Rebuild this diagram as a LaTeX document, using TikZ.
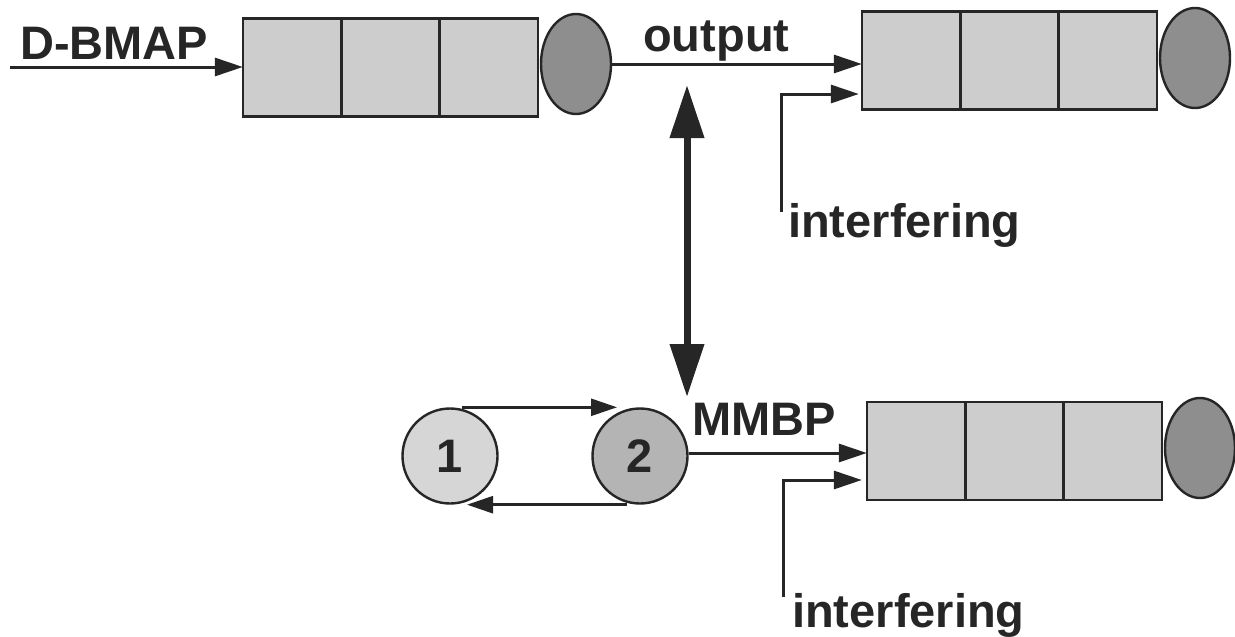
\documentclass[tikz,border=0pt]{standalone}
\usepackage{fontspec}
\setmainfont{Liberation Sans}
\usetikzlibrary{arrows.meta,shapes.geometric}

\definecolor{ink}{HTML}{262626}
\definecolor{cellgray}{HTML}{CDCDCD}
\definecolor{servergray}{HTML}{8E8E8E}
\definecolor{stateone}{HTML}{D6D6D6}
\definecolor{statetwo}{HTML}{B4B4B4}

\tikzset{
  cell/.style={rectangle, draw=ink, fill=cellgray, line width=2.6pt,
    minimum width=98.3pt, minimum height=98pt, inner sep=0pt, outer sep=0pt},
  server/.style={ellipse, draw=ink, fill=servergray, line width=2.4pt,
    minimum width=70pt, minimum height=100pt, inner sep=0pt},
  state/.style={circle, draw=ink, line width=2.4pt, minimum size=95pt,
    inner sep=0pt, text=ink, font=\fontsize{47}{47}\selectfont\bfseries},
  lbl/.style={inner sep=0pt, text=ink, font=\fontsize{47}{47}\selectfont\bfseries},
  flow/.style={draw=ink, line width=3pt, -{Triangle[length=28pt,width=18pt]}},
  loop/.style={draw=ink, line width=2.6pt, -{Triangle[length=26pt,width=17pt]}},
  link/.style={draw=ink, line width=7pt,
    {Triangle[length=53pt,width=33pt]}-{Triangle[length=53pt,width=33pt]}}
}

\begin{document}
\begin{tikzpicture}[x=1pt,y=-1pt]
  \useasboundingbox (0,0) rectangle (1235,637);

  % source queue fed by the D-BMAP stream
  \node[cell] (q1a) at (292,67.5) {};
  \node[cell] (q1b) at (390.5,67.5) {};
  \node[cell] (q1c) at (489,67.5) {};
  \node[server] (s1) at (576,64) {};

  % downstream queue fed by the output
  \node[cell] (q2a) at (911,60.5) {};
  \node[cell] (q2b) at (1009.5,60.5) {};
  \node[cell] (q2c) at (1108,60.5) {};
  \node[server] (s2) at (1195,58) {};

  % queue fed by the equivalent MMBP
  \node[cell] (q3a) at (916,451) {};
  \node[cell] (q3b) at (1014.5,451) {};
  \node[cell] (q3c) at (1113,451) {};
  \node[server] (s3) at (1200,448) {};

  % two-state modulating chain
  \node[state, fill=stateone] (c1) at (450,456) {1};
  \node[state, fill=statetwo] (c2) at (640,456) {2};

  % labels
  \node[lbl, anchor=base west] (tdbmap) at (20,59) {D-BMAP};
  \node[lbl, anchor=base west] (tout) at (643,51) {output};
  \node[lbl, anchor=base west] (tmmbp) at (692,435) {MMBP};
  \node[lbl, anchor=base west] (tif1) at (788,237) {interfering};
  \node[lbl, anchor=base west] (tif2) at (792,627) {interfering};

  % free ends of the connectors
  \coordinate (in1) at (10,67);
  \coordinate (if1) at (781,212);
  \coordinate (if2) at (783,597);
  \coordinate (lktop) at (687,85);
  \coordinate (lkbot) at (687,397);

  % arrivals
  \draw[flow] (in1) -- (in1 -| q1a.west);
  \draw[flow] (s1.east) -- (s1.east -| q2a.west);
  \draw[flow] (if1) |- ([xshift=-3pt,yshift=-33.5pt]q2a.west);
  \draw[flow] ([yshift=3pt]c2.east) -- ([yshift=3pt]c2.east -| q3a.west);
  \draw[flow] (if2) |- ([xshift=-5pt,yshift=-29pt]q3a.west);

  % transitions of the chain
  \draw[loop] ([xshift=12pt]c1.north) -- ([xshift=-23pt]c2.north);
  \draw[loop] ([xshift=-13pt]c2.south) -- ([xshift=17pt]c1.south);

  % equivalence between output and MMBP
  \draw[link] (lktop) -- (lkbot);
\end{tikzpicture}
\end{document}
